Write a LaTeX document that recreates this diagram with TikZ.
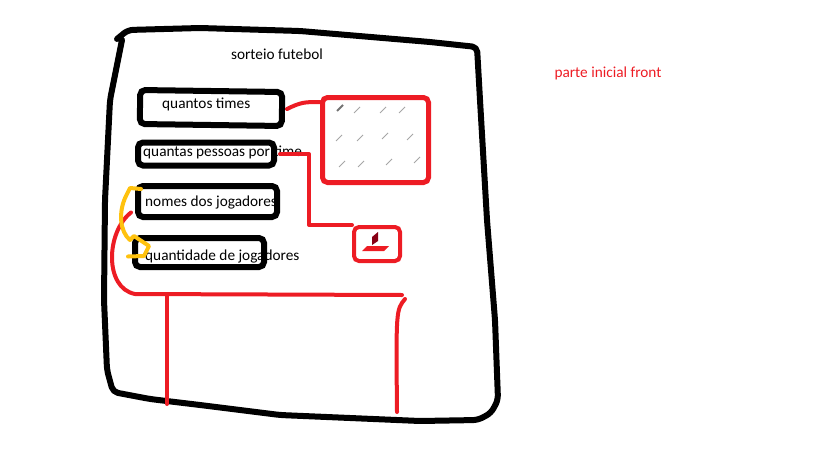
\documentclass[tikz,border=0pt]{standalone}
\usepackage{fontspec}
\setmainfont{Carlito}
\usetikzlibrary{positioning}
\definecolor{pintaVermelho}{RGB}{237,28,36}
\definecolor{pintaAmarelo}{RGB}{255,194,14}
\definecolor{pintaVinho}{RGB}{136,0,21}

\begin{document}
\begin{tikzpicture}[x=1pt, y=-1pt,
campo/.style={draw=black, line width=6pt, rounded corners=5pt, inner sep=0pt},
rotulo/.style={font=\fontsize{15.3}{17}\selectfont, inner sep=0pt, anchor=mid west},
tela/.style={draw=pintaVermelho, line width=5pt, rounded corners=5pt, inner sep=0pt},
fio/.style={draw=pintaVermelho, line width=4pt, line join=round, line cap=round}
]
    \useasboundingbox (0,0) rectangle (816,460);

    %Frame
    \draw[line width=6pt, line join=round, line cap=round, rounded corners=5pt]
        (117,39) -- (128,30) -- (200,28) -- (300,31) -- (430,42) -- (477,47)
        -- (480,100) -- (487,220) -- (495,320) -- (498,400) -- (491,413) -- (478,420)
        -- (420,421) -- (350,418) -- (280,415) -- (200,405) -- (150,399) -- (113,392)
        -- (107,370) -- (104,300) -- (105,200) -- (110,100) -- (122,40);

    %Nodes
    \node[rotulo, anchor=center] (titulo) at (277,54) {sorteio futebol};
    \node[rotulo, anchor=center, text=pintaVermelho] (nota) at (608,73) {parte inicial front};

    \node[rotulo] (tTimes)   at (162,106) {quantos times};
    \node[rotulo] (tPessoas) at (143,154) {quantas pessoas por time};
    \node[rotulo] (tNomes)   at (145,204) {nomes dos jogadores};
    \node[rotulo] (tQtd)     at (145,258) {quantidade de jogadores};

    \node[campo, minimum width=142, minimum height=34, rotate=-0.8] (bTimes)   at (211,108)   {};
    \node[campo, minimum width=136, minimum height=23]              (bPessoas) at (206,154)   {};
    \node[campo, minimum width=139, minimum height=31]              (bNomes)   at (207.5,201.5) {};
    \node[campo, minimum width=129, minimum height=29]              (bQtd)     at (199.5,252.5) {};

    \node[tela, minimum width=106, minimum height=85] (tela) at (375.5,140) {};
    \node[tela, line width=4pt, minimum width=46, minimum height=34] (suporte) at (377,244) {};

    %Screen marks
    \foreach \px/\py in {357/110, 383/110, 402/110, 339/138, 360/138, 385/136,
                         410/137, 342/164, 361/164, 389/162, 417/160}
        \draw[gray!70, line width=1pt] (\px-3,\py+3) -- (\px+3,\py-3);
    \draw[gray!90!black, line width=2pt] (337,111) -- (343,105);

    %Stand icon
    \fill[pintaVinho] (372,245) -- (372,237) -- (378,232) -- (378,241) -- cycle;
    \fill[pintaVermelho] (362,251) -- (367,246) -- (389,246) -- (384,251) -- cycle;

    %Lines
    \draw[fio] ([xshift=2]bTimes.east) .. controls +(14,-7) and +(-15,0) .. ([yshift=-7]tela.north west);
    \draw[fio] ([xshift=3]bPessoas.east) -- ++(29,0) |- (suporte.north west);

    \coordinate (mesaE) at (135,294);
    \coordinate (mesaD) at (402,295);
    \draw[fio] ([shift={(-4,11)}]bNomes.west) .. controls (106,232) and (104,288) .. (mesaE) -- (mesaD);
    \draw[fio] (167,296) -- (167,404);
    \draw[fio] (405,299) .. controls (396,310) .. (397,412);

    \draw[pintaAmarelo, line width=4pt, line join=round, line cap=round]
        ([shift={(6,6)}]bNomes.north west) -- ([shift={(-5,5)}]bNomes.north west)
        -- ++(-4,8) .. controls (118,212) and (120,232) .. (130,240)
        -- (134,236) -- (149,246) -- (144,256) -- ([shift={(-4,4)}]bQtd.west);
\end{tikzpicture}
\end{document}
